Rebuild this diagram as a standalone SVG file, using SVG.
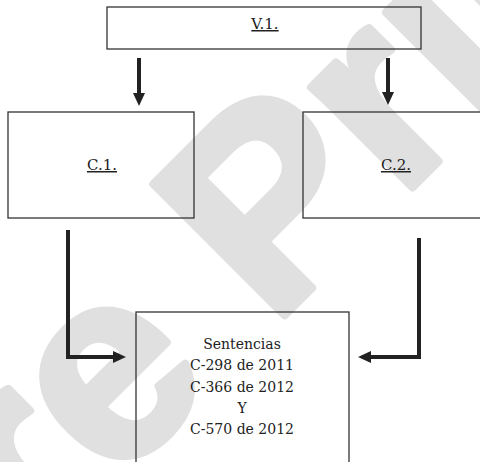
<svg xmlns="http://www.w3.org/2000/svg" width="480" height="462" viewBox="0 0 480 462">
  <style>
    .box { fill: none; stroke: #333; stroke-width: 1.3; }
    .lbl { font-family: "DejaVu Serif", "Liberation Serif", serif; font-size: 15px; fill: #222; text-anchor: middle; text-decoration: underline; }
    .body { font-family: "DejaVu Serif", "Liberation Serif", serif; font-size: 14px; fill: #222; text-anchor: middle; }
    .wire { fill: none; stroke: #222; stroke-width: 4; stroke-linejoin: miter; }
    .mark { font-family: "Liberation Sans", Arial, sans-serif; font-weight: bold; font-size: 270px; fill: #e0e0e0; stroke: #e0e0e0; stroke-width: 8; stroke-linejoin: round; }
  </style>
  <defs>
    <marker id="head" markerUnits="userSpaceOnUse" markerWidth="13" markerHeight="12" refX="0" refY="6" orient="auto">
      <path d="M0,0 L13,6 L0,12 z" fill="#222"/>
    </marker>
  </defs>

  <rect width="480" height="462" fill="#fff"/>

  <!-- background stamp -->
  <text class="mark" transform="translate(-89,689) rotate(-45)">Pre Print</text>

  <g id="v1">
    <rect class="box" x="107" y="7" width="314" height="42"/>
    <text class="lbl" x="265" y="29">V.1.</text>
  </g>
  <g id="c1">
    <rect class="box" x="8" y="112" width="186" height="106"/>
    <text class="lbl" x="102" y="170">C.1.</text>
  </g>
  <g id="c2">
    <rect class="box" x="303" y="112" width="190" height="106"/>
    <text class="lbl" x="396" y="170">C.2.</text>
  </g>
  <g id="sentencias">
    <rect class="box" x="136" y="312" width="213" height="170"/>
    <text class="body" x="242" y="349">Sentencias</text>
    <text class="body" x="242" y="370">C-298 de 2011</text>
    <text class="body" x="242" y="392">C-366 de 2012</text>
    <text class="body" x="242" y="413">Y</text>
    <text class="body" x="242" y="434">C-570 de 2012</text>
  </g>

  <g id="connectors">
    <path class="wire" d="M139,58 V93" marker-end="url(#head)"/>
    <path class="wire" d="M388,58 V92" marker-end="url(#head)"/>
    <path class="wire" d="M68,230 V357 H113" marker-end="url(#head)"/>
    <path class="wire" d="M419,238 V357 H371" marker-end="url(#head)"/>
  </g>
</svg>
